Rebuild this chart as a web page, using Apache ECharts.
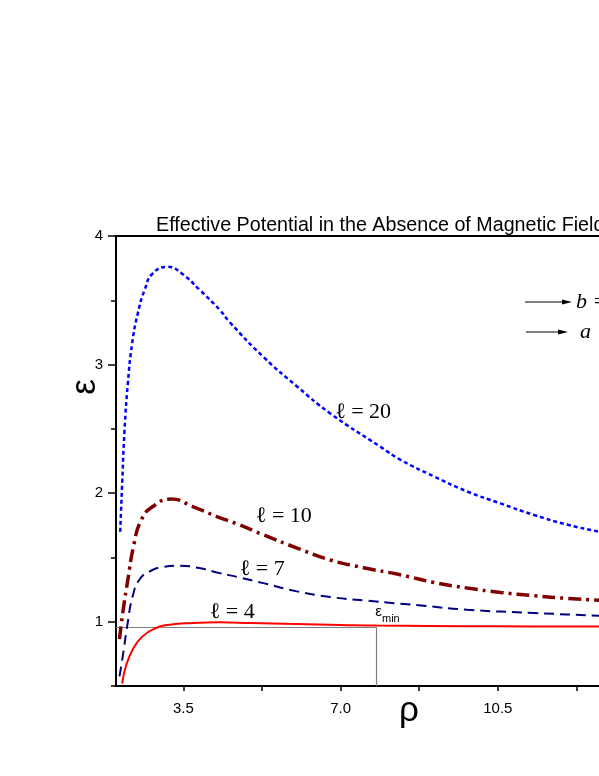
<!DOCTYPE html>
<html>
<head>
<meta charset="utf-8">
<script src="https://cdn.jsdelivr.net/npm/echarts@6/dist/echarts.min.js"></script>
<style>html,body{margin:0;padding:0;background:#fff}#c{width:599px;height:776px}</style>
</head>
<body>
<div id="c"></div>
<script>
// ---- data ----
const l20Rho = [2.094,2.138,2.19,2.264,2.36,2.487,2.637,2.82,3.157,3.457,3.866,4.31,4.53,5.28,6.03,6.77,7.89,8.33,9.08,9.82,10.56,11.31,12.06,12.76,14];
const l20Eps = [1.70,2.08,2.49,2.855,3.166,3.40,3.58,3.71,3.76,3.71,3.58,3.425,3.33,3.06,2.83,2.62,2.36,2.26,2.13,2.013,1.92,1.83,1.754,1.70,1.61];
const l10Rho = [2.078,2.15,2.264,2.39,2.56,2.82,3.23,3.71,4.23,4.70,5.28,6.03,6.77,7.51,8.33,9.08,9.82,10.56,11.31,12.06,12.76,14];
const l10Eps = [0.865,1.068,1.326,1.585,1.79,1.896,1.954,1.896,1.82,1.76,1.676,1.573,1.48,1.42,1.365,1.305,1.262,1.228,1.202,1.181,1.166,1.14];
const l7Rho = [2.078,2.15,2.26,2.37,2.52,2.744,3.04,3.41,3.86,4.31,4.70,5.28,6.03,6.77,7.51,8.33,8.85,9.82,11.31,12.76,14];
const l7Eps = [0.575,0.73,0.99,1.197,1.326,1.39,1.425,1.435,1.417,1.378,1.348,1.30,1.236,1.192,1.166,1.14,1.124,1.093,1.068,1.047,1.035];
const l4Rho = [2.138,2.22,2.37,2.59,2.89,3.19,3.71,4.31,5.0,6.0,7.0,7.8,9.0,10.5,12.0,14];
const l4Eps = [0.518,0.653,0.782,0.886,0.951,0.977,0.99,0.995,0.99,0.982,0.975,0.97,0.967,0.964,0.963,0.963];
const eminRho = 7.8;
const eminEps = 0.955;
const xTickLabels = [3.5, 7.0, 10.5];
const xMinorTicks = [3.5, 5.25, 7.0, 8.75, 10.5, 12.25];
const yTickLabels = [1, 2, 3, 4];
const yMinorTicks = [0.5, 1.5, 2.5, 3.5];
const curveLabels = [
  {text: 'ℓ = 20', rho: 6.89, eps: 2.624},
  {text: 'ℓ = 10', rho: 5.125, eps: 1.818},
  {text: 'ℓ = 7', rho: 4.768, eps: 1.404},
  {text: 'ℓ = 4', rho: 4.10, eps: 1.07}
];
const titleText = 'Effective Potential in the Absence of Magnetic Field';

const zip = (a, b) => a.map((v, i) => [v, b[i]]);
const chart = echarts.init(document.getElementById('c'), null, {renderer: 'canvas'});

function labelPoint(l) {
  return {
    symbol: 'circle', symbolSize: 1, itemStyle: {color: 'rgba(0,0,0,0)'},
    label: {show: true, position: [0, 0], align: 'left', verticalAlign: 'middle',
      color: '#000', fontFamily: 'Liberation Serif', fontSize: 22},
    data: [{coord: [l.rho, l.eps], value: l.text, label: {formatter: l.text}}]
  };
}

const axisBase = {
  type: 'value', min: 2, max: 14,
  axisLine: {show: true, lineStyle: {color: '#000', width: 2}},
  splitLine: {show: false}
};

chart.setOption({
  animation: false,
  backgroundColor: '#fff',
  title: {text: titleText, left: 151, top: 211,
    textStyle: {fontFamily: 'Liberation Sans', fontSize: 19.7, fontWeight: 'normal', color: '#000'}},
  grid: {left: 116, top: 236, right: -56, bottom: 90, containLabel: false, outerBoundsMode: 'none'},
  xAxis: [
    Object.assign({}, axisBase, {
      position: 'bottom',
      axisTick: {show: true, inside: false, length: 5, lineStyle: {color: '#000', width: 1.5}, customValues: xMinorTicks},
      axisLabel: {show: true, customValues: xTickLabels, formatter: v => Number(v).toFixed(1),
        margin: 15, color: '#000', fontFamily: 'Liberation Sans', fontSize: 15}
    }),
    Object.assign({}, axisBase, {
      position: 'top', axisTick: {show: false}, axisLabel: {show: false}
    })
  ],
  yAxis: [
    {type: 'value', min: 0.5, max: 4,
      axisLine: {show: true, lineStyle: {color: '#000', width: 2}},
      splitLine: {show: false},
      axisTick: {show: true, length: 8, lineStyle: {color: '#000', width: 1.5}, customValues: yTickLabels},
      axisLabel: {show: true, customValues: yTickLabels, margin: 13, color: '#000',
        fontFamily: 'Liberation Sans', fontSize: 15}
    },
    {type: 'value', min: 0.5, max: 4, position: 'left',
      axisLine: {show: false}, splitLine: {show: false},
      axisTick: {show: true, length: 5, lineStyle: {color: '#000', width: 1.5}, customValues: yMinorTicks},
      axisLabel: {show: false}
    }
  ],
  graphic: [
    {type: 'text', x: 409, y: 711, style: {text: 'ρ', font: '35px "Liberation Sans"', fill: '#000', align: 'center', verticalAlign: 'middle'}},
    {type: 'text', x: 85, y: 387, rotation: Math.PI / 2, style: {text: 'ε', font: '35px "Liberation Sans"', fill: '#000', align: 'center', verticalAlign: 'middle'}},
    {type: 'line', shape: {x1: 525, y1: 302, x2: 565, y2: 302}, style: {stroke: '#000', lineWidth: 1}},
    {type: 'polygon', shape: {points: [[572, 302], [562, 299.5], [562, 304.5]]}, style: {fill: '#000'}},
    {type: 'text', x: 576, y: 302, style: {text: 'b =', font: 'italic 22px "Liberation Serif"', fill: '#000', align: 'left', verticalAlign: 'middle'}},
    {type: 'line', shape: {x1: 526, y1: 332, x2: 560, y2: 332}, style: {stroke: '#000', lineWidth: 1}},
    {type: 'polygon', shape: {points: [[568, 332], [558, 329.5], [558, 334.5]]}, style: {fill: '#000'}},
    {type: 'text', x: 580, y: 332, style: {text: 'a =', font: 'italic 22px "Liberation Serif"', fill: '#000', align: 'left', verticalAlign: 'middle'}}
  ],
  series: [
    {type: 'line', name: 'emin', data: [[2, eminEps], [eminRho, eminEps], [eminRho, 0.5]],
      symbol: 'none', lineStyle: {color: '#808080', width: 1.2}, z: 1,
      markPoint: {
        symbol: 'circle', symbolSize: 1, itemStyle: {color: 'rgba(0,0,0,0)'},
        data: [
          {coord: [eminRho - 0.017, 1.07], label: {show: true, formatter: 'ε', position: [0, 0], align: 'left', verticalAlign: 'middle', color: '#000', fontFamily: 'Liberation Sans', fontSize: 15}},
          {coord: [eminRho + 0.133, 1.0155], label: {show: true, formatter: 'min', position: [0, 0], align: 'left', verticalAlign: 'middle', color: '#000', fontFamily: 'Liberation Sans', fontSize: 11}}
        ]
      }
    },
    {type: 'line', name: 'l4', data: zip(l4Rho, l4Eps), smooth: true, symbol: 'none',
      lineStyle: {color: '#ff0000', width: 2}, markPoint: labelPoint(curveLabels[3])},
    {type: 'line', name: 'l7', data: zip(l7Rho, l7Eps), smooth: true, symbol: 'none',
      lineStyle: {color: '#000080', width: 2, type: [10, 6]}, markPoint: labelPoint(curveLabels[2])},
    {type: 'line', name: 'l10', data: zip(l10Rho, l10Eps), smooth: true, symbol: 'none',
      lineStyle: {color: '#800000', width: 3.5, type: [13, 5, 3, 5]}, markPoint: labelPoint(curveLabels[1])},
    {type: 'line', name: 'l20', data: zip(l20Rho, l20Eps), smooth: true, symbol: 'none',
      lineStyle: {color: '#0000ff', width: 2.5, type: [4, 3]}, markPoint: labelPoint(curveLabels[0])}
  ]
});
</script>
</body>
</html>
